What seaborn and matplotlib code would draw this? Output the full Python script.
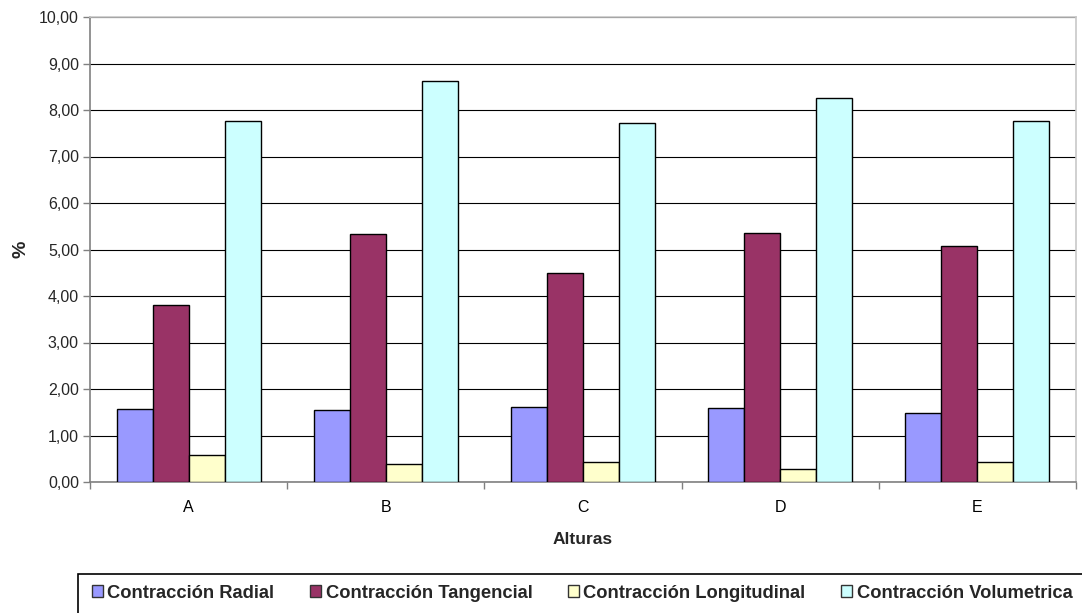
import matplotlib
matplotlib.use("Agg")
import matplotlib.pyplot as plt
import matplotlib.patches as mpatches
from matplotlib.ticker import FuncFormatter, FixedLocator
import seaborn as sns
import pandas as pd

categories = ["A", "B", "C", "D", "E"]
series = ["Contracción Radial", "Contracción Tangencial",
          "Contracción Longitudinal", "Contracción Volumetrica"]
radial = [1.56, 1.55, 1.61, 1.60, 1.49]
tangencial = [3.80, 5.34, 4.50, 5.36, 5.07]
longitudinal = [0.58, 0.38, 0.44, 0.27, 0.44]
volumetrica = [7.76, 8.62, 7.73, 8.25, 7.76]
colors = ["#9999FF", "#993366", "#FFFFCC", "#CCFFFF"]

rows = []
for s, vals in zip(series, [radial, tangencial, longitudinal, volumetrica]):
    for c, v in zip(categories, vals):
        rows.append({"Alturas": c, "Serie": s, "valor": v})
df = pd.DataFrame(rows)

sns.set_theme(style="white")
plt.rcParams["font.family"] = ["Liberation Sans", "DejaVu Sans"]

fig = plt.figure(figsize=(10.82, 6.13), dpi=100)
ax = fig.add_axes([90/1082, 1-482/613, (1076-90)/1082, (482-17)/613])

sns.barplot(data=df, x="Alturas", y="valor", hue="Serie", order=categories,
            hue_order=series, palette=colors, width=0.73, gap=0,
            edgecolor="black", linewidth=1.0, saturation=1, ax=ax,
            legend=False, zorder=3)

ax.set_ylim(0, 10)
ax.set_xlim(-0.5, 4.5)
ax.set_yticks(range(0, 11))
ax.yaxis.set_major_formatter(FuncFormatter(lambda v, p: f"{v:.2f}".replace(".", ",")))
ax.yaxis.grid(True, color="black", linewidth=0.8, zorder=0)
ax.set_axisbelow(True)

ax.xaxis.set_minor_locator(FixedLocator([-0.5, 0.5, 1.5, 2.5, 3.5, 4.5]))
ax.tick_params(axis="x", which="major", length=0, pad=13, labelsize=11.5, colors="black")
ax.tick_params(axis="x", which="minor", length=5, width=1, color="#808080", direction="out", bottom=True)
ax.tick_params(axis="y", which="major", length=5, width=1, color="#808080", direction="out",
               left=True, pad=3, labelsize=11.5)

for side in ["left", "bottom"]:
    ax.spines[side].set_color("#808080")
    ax.spines[side].set_linewidth(1.2)
for side in ["top", "right"]:
    ax.spines[side].set_visible(True)
    ax.spines[side].set_color("#C8C8C8")
    ax.spines[side].set_linewidth(1.2)

ax.set_xlabel("Alturas", fontsize=12.5, fontweight="bold", labelpad=12)
ax.set_ylabel("%", fontsize=14, fontweight="bold", labelpad=7)

handles = [mpatches.Patch(facecolor=c, edgecolor="#333333", linewidth=1.0) for c in colors]
leg = fig.legend(handles, series, loc="upper left",
                 bbox_to_anchor=(86/1082, 0, (1078-86)/1082, 1-579/613),
                 mode="expand",
                 ncol=4, frameon=False, prop={"weight": "bold", "size": 13.2},
                 handlelength=0.62, handleheight=0.62, handletextpad=0.25,
                 columnspacing=1.4, borderaxespad=0, borderpad=0.3)

fig.patches.append(mpatches.Rectangle((78/1082, -0.05), 1.1, 1-574/613+0.05,
                                      transform=fig.transFigure, fill=False,
                                      edgecolor="black", linewidth=1.2))

fig.savefig("out.png", dpi=100)
